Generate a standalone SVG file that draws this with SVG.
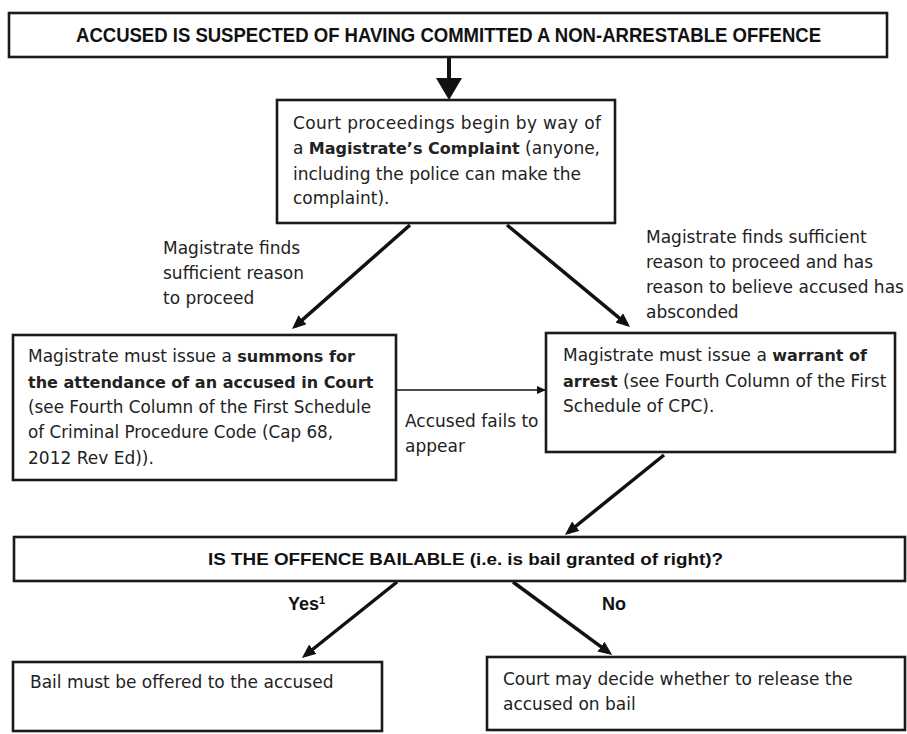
<svg xmlns="http://www.w3.org/2000/svg" width="907" height="734" viewBox="0 0 907 734">
<style>
.box{fill:#fff;stroke:#1a1a1a;stroke-width:2.6}
.t{font-family:"DejaVu Sans","Liberation Sans",sans-serif;font-size:17px;fill:#222}
.b{font-weight:bold;font-size:16px}
.h{font-family:"Liberation Sans",Arial,sans-serif;font-weight:bold;fill:#111}
.c{stroke:#111;stroke-width:3.5;fill:none}
.thin{stroke:#111;stroke-width:1.3;fill:none}
</style>
<defs>
<marker id="ah" viewBox="0 0 14 12" markerWidth="14" markerHeight="12" refX="10" refY="6" orient="auto" markerUnits="userSpaceOnUse">
<path d="M0,0 L14,6 L0,12 z" fill="#111"/>
</marker>
<marker id="ahs" viewBox="0 0 9 8" markerWidth="9" markerHeight="8" refX="9" refY="4" orient="auto" markerUnits="userSpaceOnUse">
<path d="M0,0 L9,4 L0,8 z" fill="#111"/>
</marker>
</defs>
<rect width="907" height="734" fill="#fff"/>

<g id="connectors">
<line class="c" x1="449" y1="57" x2="449" y2="80" style="stroke-width:4"/>
<polygon points="436,78 462,78 449,100" fill="#111"/>
<line class="c" x1="410" y1="225" x2="295" y2="326.4" marker-end="url(#ah)"/>
<line class="c" x1="507" y1="225" x2="627" y2="324.4" marker-end="url(#ah)"/>
<line class="thin" x1="396" y1="390" x2="546" y2="390" marker-end="url(#ahs)"/>
<line class="c" x1="664" y1="455" x2="568" y2="532.5" marker-end="url(#ah)"/>
<line class="c" x1="397" y1="582" x2="305" y2="655.5" marker-end="url(#ah)"/>
<line class="c" x1="513" y1="582" x2="609" y2="652.6" marker-end="url(#ah)"/>
</g>

<g id="labels">
<text class="t" x="163" y="254">Magistrate finds</text>
<text class="t" x="163" y="279">sufficient reason</text>
<text class="t" x="163" y="304">to proceed</text>
<text class="t" x="646" y="243">Magistrate finds sufficient</text>
<text class="t" x="646" y="268">reason to proceed and has</text>
<text class="t" x="646" y="293">reason to believe accused has</text>
<text class="t" x="646" y="318">absconded</text>
<text class="t" x="405" y="427">Accused fails to</text>
<text class="t" x="405" y="452">appear</text>
<text class="h" x="288" y="610" font-size="18">Yes<tspan font-size="11" dy="-6">1</tspan></text>
<text class="h" x="602" y="610" font-size="18">No</text>
</g>

<g id="n-start">
<rect class="box" x="9" y="13" width="878" height="44"/>
<text class="h" x="76" y="42" font-size="19.5" textLength="745" lengthAdjust="spacingAndGlyphs">ACCUSED IS SUSPECTED OF HAVING COMMITTED A NON-ARRESTABLE OFFENCE</text>
</g>

<g id="n-complaint">
<rect class="box" x="277" y="100" width="338" height="123"/>
<text class="t" x="293" y="129" textLength="308">Court proceedings begin by way of</text>
<text class="t" x="293" y="154">a <tspan class="b">Magistrate’s Complaint</tspan> (anyone,</text>
<text class="t" x="293" y="180">including the police can make the</text>
<text class="t" x="293" y="204">complaint).</text>
</g>

<g id="n-summons">
<rect class="box" x="13" y="335" width="383" height="145"/>
<text class="t" x="28" y="362">Magistrate must issue a <tspan class="b">summons for</tspan></text>
<text class="t b" x="28" y="388">the attendance of an accused in Court</text>
<text class="t" x="28" y="413" textLength="343" lengthAdjust="spacingAndGlyphs">(see Fourth Column of the First Schedule</text>
<text class="t" x="28" y="438" textLength="305" lengthAdjust="spacingAndGlyphs">of Criminal Procedure Code (Cap 68,</text>
<text class="t" x="28" y="464">2012 Rev Ed)).</text>
</g>

<g id="n-warrant">
<rect class="box" x="546" y="333" width="349" height="119"/>
<text class="t" x="563" y="361">Magistrate must issue a <tspan class="b">warrant of</tspan></text>
<text class="t" x="563" y="387" font-size="16.5px"><tspan class="b">arrest</tspan> (see Fourth Column of the First</text>
<text class="t" x="563" y="412">Schedule of CPC).</text>
</g>

<g id="n-bailable">
<rect class="box" x="14" y="537" width="891" height="44"/>
<text class="h" x="208" y="565" font-size="17" textLength="515" lengthAdjust="spacingAndGlyphs">IS THE OFFENCE BAILABLE (i.e. is bail granted of right)?</text>
</g>

<g id="n-yes">
<rect class="box" x="13" y="662" width="369" height="69"/>
<text class="t" x="30" y="688">Bail must be offered to the accused</text>
</g>

<g id="n-no">
<rect class="box" x="487" y="657" width="418" height="73"/>
<text class="t" x="503" y="685">Court may decide whether to release the</text>
<text class="t" x="503" y="710">accused on bail</text>
</g>
</svg>
